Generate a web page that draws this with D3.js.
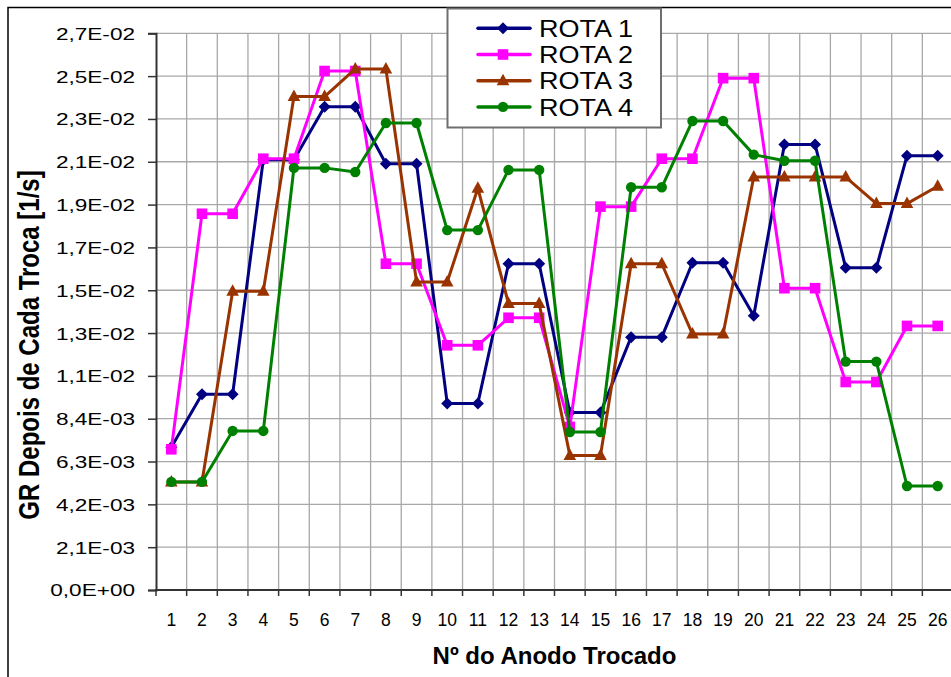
<!DOCTYPE html>
<html>
<head>
<meta charset="utf-8">
<script src="https://cdn.jsdelivr.net/npm/d3@7"></script>
<style>
  html, body { margin: 0; padding: 0; background: #fff; }
  svg { display: block; font-family: "Liberation Sans", Arial, sans-serif; }
</style>
</head>
<body>
<svg id="chart" width="951" height="677"></svg>
<script>
// Anode numbers (category axis)
const categories = ["1","2","3","4","5","6","7","8","9","10","11","12","13","14","15","16","17","18","19","20","21","22","23","24","25","26"];

// GR after each anode change [1/s], one array per route
const rota1 = [7.0e-3, 9.6e-3, 9.6e-3, 21.1e-3, 21.1e-3, 23.7e-3, 23.7e-3, 20.9e-3, 20.9e-3, 9.15e-3, 9.15e-3, 16.0e-3, 16.0e-3, 8.7e-3, 8.7e-3, 12.4e-3, 12.4e-3, 16.05e-3, 16.05e-3, 13.45e-3, 21.85e-3, 21.85e-3, 15.8e-3, 15.8e-3, 21.3e-3, 21.3e-3];
const rota2 = [6.9e-3, 18.45e-3, 18.45e-3, 21.15e-3, 21.15e-3, 25.45e-3, 25.45e-3, 16.0e-3, 16.0e-3, 12.0e-3, 12.0e-3, 13.35e-3, 13.35e-3, 8.0e-3, 18.8e-3, 18.8e-3, 21.15e-3, 21.15e-3, 25.1e-3, 25.1e-3, 14.8e-3, 14.8e-3, 10.2e-3, 10.2e-3, 12.95e-3, 12.95e-3];
const rota3 = [5.3e-3, 5.3e-3, 14.65e-3, 14.65e-3, 24.2e-3, 24.2e-3, 25.55e-3, 25.55e-3, 15.1e-3, 15.1e-3, 19.7e-3, 14.05e-3, 14.05e-3, 6.6e-3, 6.6e-3, 16.0e-3, 16.0e-3, 12.55e-3, 12.55e-3, 20.25e-3, 20.25e-3, 20.25e-3, 20.25e-3, 18.95e-3, 18.95e-3, 19.8e-3];
const rota4 = [5.3e-3, 5.3e-3, 7.8e-3, 7.8e-3, 20.7e-3, 20.7e-3, 20.5e-3, 22.9e-3, 22.9e-3, 17.65e-3, 17.65e-3, 20.6e-3, 20.6e-3, 7.75e-3, 7.75e-3, 19.75e-3, 19.75e-3, 23.0e-3, 23.0e-3, 21.35e-3, 21.05e-3, 21.05e-3, 11.2e-3, 11.2e-3, 5.1e-3, 5.1e-3];

const seriesNames = ["ROTA 1", "ROTA 2", "ROTA 3", "ROTA 4"];

// Value axis ticks and their labels
const yTickValues = [0, 0.0021, 0.0042, 0.0063, 0.0084, 0.0105, 0.0126, 0.0147, 0.0168, 0.0189, 0.0210, 0.0231, 0.0252, 0.0273];
const yTickLabels = ["0,0E+00", "2,1E-03", "4,2E-03", "6,3E-03", "8,4E-03", "1,1E-02", "1,3E-02", "1,5E-02", "1,7E-02", "1,9E-02", "2,1E-02", "2,3E-02", "2,5E-02", "2,7E-02"];

const xTitle = "Nº do Anodo Trocado";
const yTitle = "GR Depois de Cada Troca [1/s]";

const series = [
  { name: seriesNames[0], values: rota1, color: "#000080", marker: "diamond" },
  { name: seriesNames[1], values: rota2, color: "#FF00FF", marker: "square" },
  { name: seriesNames[2], values: rota3, color: "#993300", marker: "triangle" },
  { name: seriesNames[3], values: rota4, color: "#008000", marker: "circle" }
];

const svg = d3.select("#chart");

// Chart area frame
svg.append("rect")
  .attr("x", 8).attr("y", 7.5)
  .attr("width", 1000).attr("height", 720)
  .attr("fill", "#fff").attr("stroke", "#000").attr("stroke-width", 1.5);

const plot = { left: 156, right: 953, top: 33.3, bottom: 590 };

const x = d3.scaleBand().domain(categories).range([plot.left, plot.right]).padding(0);
const y = d3.scaleLinear().domain([0, yTickValues[yTickValues.length - 1]]).range([plot.bottom, plot.top]);
const cx = c => x(c) + x.bandwidth() / 2;

// Gridlines
const grid = svg.append("g").attr("stroke", "#a8a8a8").attr("stroke-width", 1.3);
grid.selectAll("line.h").data(yTickValues.slice(1)).join("line")
  .attr("x1", plot.left).attr("x2", plot.right)
  .attr("y1", d => y(d)).attr("y2", d => y(d));
const boundaries = categories.map(c => x(c) + x.bandwidth());
grid.selectAll("line.v").data(boundaries).join("line")
  .attr("x1", d => d).attr("x2", d => d)
  .attr("y1", plot.top).attr("y2", plot.bottom);

// Value axis
const yScaleX = 1.37;
const yAxis = svg.append("g")
  .attr("transform", `translate(${plot.left},0)`)
  .call(d3.axisLeft(y).tickValues(yTickValues).tickFormat((d, i) => yTickLabels[i]).tickSize(8).tickPadding(13));
yAxis.select(".domain").attr("stroke", "#333").attr("stroke-width", 2);
yAxis.selectAll(".tick line").attr("stroke", "#333").attr("stroke-width", 1.5);
yAxis.selectAll(".tick text")
  .attr("font-family", "Liberation Sans, Arial, sans-serif")
  .attr("font-size", 16.5).attr("fill", "#000")
  .attr("x", -21 / yScaleX).attr("dy", "0.36em")
  .attr("transform", `scale(${yScaleX},1)`);

// Category axis: line, ticks at band boundaries, labels at centers
const xAxis = svg.append("g")
  .attr("transform", `translate(0,${plot.bottom})`)
  .call(d3.axisBottom(x).tickSize(0).tickPadding(0));
xAxis.select(".domain").remove();
xAxis.selectAll(".tick text")
  .attr("font-family", "Liberation Sans, Arial, sans-serif")
  .attr("font-size", 17.5).attr("fill", "#000")
  .attr("y", 36).attr("dy", 0);
svg.append("g").attr("stroke", "#333").attr("stroke-width", 1.5)
  .selectAll("line").data([plot.left].concat(boundaries)).join("line")
  .attr("x1", d => d).attr("x2", d => d)
  .attr("y1", plot.bottom).attr("y2", plot.bottom + 6);
svg.append("line")
  .attr("x1", plot.left - 1).attr("x2", plot.right)
  .attr("y1", plot.bottom).attr("y2", plot.bottom)
  .attr("stroke", "#333").attr("stroke-width", 2);

// Marker shapes
function markerPath(type) {
  switch (type) {
    case "diamond": { const s = 6; return `M0,${-s}L${s},0L0,${s}L${-s},0Z`; }
    case "square": { const s = 5.3; return `M${-s},${-s}H${s}V${s}H${-s}Z`; }
    case "triangle": return "M0,-7L6.3,4.5L-6.3,4.5Z";
    default: return d3.symbol(d3.symbolCircle, Math.PI * 5.2 * 5.2)();
  }
}

// Series lines and markers
const line = d3.line().x((d, i) => cx(categories[i])).y(d => y(d));
series.forEach(s => {
  const g = svg.append("g");
  g.append("path").attr("d", line(s.values))
    .attr("fill", "none").attr("stroke", s.color).attr("stroke-width", 3)
    .attr("stroke-linejoin", "round");
  g.selectAll("path.m").data(s.values).join("path")
    .attr("class", "m")
    .attr("d", markerPath(s.marker))
    .attr("transform", (d, i) => `translate(${cx(categories[i])},${y(d)})`)
    .attr("fill", s.color);
});

// Axis titles
svg.append("text")
  .attr("x", (plot.left + plot.right) / 2).attr("y", 664)
  .attr("text-anchor", "middle")
  .attr("font-size", 24).attr("font-weight", "bold")
  .text(xTitle);
svg.append("text")
  .attr("transform", "translate(38.5,345) scale(1.2,1) rotate(-90)")
  .attr("text-anchor", "middle")
  .attr("font-size", 24).attr("font-weight", "bold")
  .text(yTitle);

// Legend: rows are tightly packed, so each name is set at 23px and widened to its box width
const legend = svg.append("g");
legend.append("rect")
  .attr("x", 447.5).attr("y", 8.5).attr("width", 213.5).attr("height", 119)
  .attr("fill", "#fff").attr("stroke", "#6e6e6e").attr("stroke-width", 2);
series.forEach((s, i) => {
  const ly = 28.3 + i * 26.2;
  const row = legend.append("g");
  row.append("line").attr("x1", 478).attr("x2", 530).attr("y1", ly).attr("y2", ly)
    .attr("stroke", s.color).attr("stroke-width", 3.5).attr("stroke-linecap", "round");
  row.append("path").attr("d", markerPath(s.marker))
    .attr("transform", `translate(503,${ly})`).attr("fill", s.color);
  row.append("text").attr("x", 539).attr("y", ly + 8.6)
    .attr("font-size", 23).attr("fill", "#000")
    .attr("textLength", 94).attr("lengthAdjust", "spacingAndGlyphs")
    .text(s.name);
});
</script>
</body>
</html>
